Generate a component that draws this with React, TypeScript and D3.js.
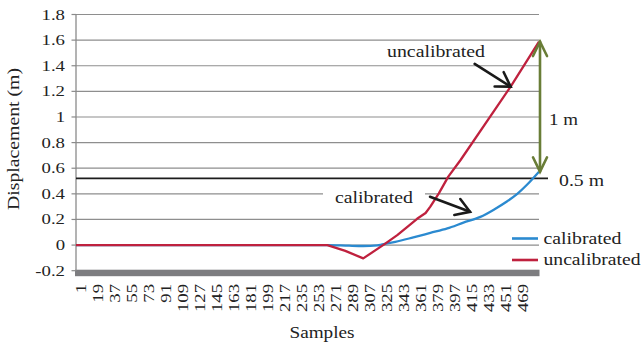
import React from 'react';
import * as d3 from 'd3';

// Sample axis labels (every 18th sample)
const xTickSamples = [1, 19, 37, 55, 73, 91, 109, 127, 145, 163, 181, 199, 217, 235, 253, 271, 289, 307, 325, 343, 361, 379, 397, 415, 433, 451, 469];
const sampleCount = 491;

// Displacement axis
const yTickValues = [-0.2, 0, 0.2, 0.4, 0.6, 0.8, 1, 1.2, 1.4, 1.6, 1.8];
const yTickLabels = ['-0.2', '0', '0.2', '0.4', '0.6', '0.8', '1', '1.2', '1.4', '1.6', '1.8'];

// Calibrated displacement (m) at sample indices
const calibratedSamples = [1, 267, 290, 305, 320, 325, 339, 358, 376, 394, 411, 429, 444, 457, 468, 478, 491];
const calibratedValues = [0, 0, -0.005, -0.007, -0.002, 0.005, 0.025, 0.06, 0.095, 0.13, 0.175, 0.22, 0.28, 0.34, 0.4, 0.469, 0.573];

// Uncalibrated displacement (m) at sample indices
const uncalibratedSamples = [1, 267, 286, 305, 326, 341, 353, 362, 371, 376, 385, 395, 408, 461, 491];
const uncalibratedValues = [0, 0, -0.045, -0.104, 0, 0.078, 0.15, 0.205, 0.25, 0.3, 0.404, 0.534, 0.664, 1.237, 1.588];

// Reference level for the "0.5 m" marker
const referenceLevel = 0.52;

const seriesNames = ['calibrated', 'uncalibrated'];
const seriesColors = ['#2B8AD0', '#BF213E'];

const FONT = "'Liberation Serif', 'Times New Roman', Times, 'DejaVu Serif', serif";

function arrowHead(tip: [number, number], from: [number, number], len: number, halfAngle: number): string {
  const ang = Math.atan2(from[1] - tip[1], from[0] - tip[0]);
  const a = (halfAngle * Math.PI) / 180;
  const b1 = [tip[0] + len * Math.cos(ang + a), tip[1] + len * Math.sin(ang + a)];
  const b2 = [tip[0] + len * Math.cos(ang - a), tip[1] + len * Math.sin(ang - a)];
  return `M${b1[0]},${b1[1]}L${tip[0]},${tip[1]}L${b2[0]},${b2[1]}`;
}

const textStyle: React.CSSProperties = { fontFamily: FONT };

export default function App() {
  const x = d3.scaleLinear().domain([1, sampleCount]).range([76, 539]);
  const y = d3.scaleLinear().domain([-0.2, 1.8]).range([270.7, 14.5]);
  const plotLeft = x(1);
  const plotRight = x(sampleCount);

  const calibrated: [number, number][] = calibratedSamples.map((s, i) => [s, calibratedValues[i]]);
  const uncalibrated: [number, number][] = uncalibratedSamples.map((s, i) => [s, uncalibratedValues[i]]);

  const smoothLine = d3.line<[number, number]>().x(d => x(d[0])).y(d => y(d[1])).curve(d3.curveMonotoneX);
  const straightLine = d3.line<[number, number]>().x(d => x(d[0])).y(d => y(d[1]));

  // difference arrow between the two series at the last sample
  const lastCal = calibratedValues[calibratedValues.length - 1];
  const lastUncal = uncalibratedValues[uncalibratedValues.length - 1];
  const gx = plotRight + 1;
  const gTop: [number, number] = [gx, y(lastUncal)];
  const gBot: [number, number] = [gx, y(lastCal)];

  // pointer arrows for the two callouts
  const uTip: [number, number] = [x(461), y(1.237)];
  const uTail: [number, number] = [uTip[0] - 36, uTip[1] - 22.7];
  const cTip: [number, number] = [x(418), y(0.26)];
  const cTail: [number, number] = [cTip[0] - 40, cTip[1] - 15];

  return (
    <svg width={642} height={345} style={{ position: 'absolute', left: 0, top: 0, background: '#fff', fontFamily: FONT }}>
      <rect x={0} y={0} width={642} height={345} fill="#fff" />

      {/* gridlines */}
      {yTickValues.filter(v => v > -0.2).map(v => (
        <line key={'g' + v} x1={plotLeft} x2={plotRight} y1={y(v)} y2={y(v)} stroke="#8e8e8e" strokeWidth={1.2} />
      ))}

      {/* floor band */}
      <rect x={plotLeft - 1} y={y(-0.2) - 1} width={plotRight - plotLeft + 1.5} height={6.5} fill="#7d7d80" />

      {/* y axis */}
      <line x1={plotLeft} x2={plotLeft} y1={y(1.8)} y2={y(-0.2)} stroke="#8a8a8a" strokeWidth={1.3} />
      {yTickValues.map(v => (
        <line key={'t' + v} x1={plotLeft - 4.5} x2={plotLeft} y1={y(v)} y2={y(v)} stroke="#8a8a8a" strokeWidth={1.2} />
      ))}
      {yTickValues.map((v, i) => (
        <text key={'yl' + v} style={textStyle} transform={`translate(65,${y(v) + 5}) scale(1.25,1)`} textAnchor="end" fontSize={15} fill="#222">
          {yTickLabels[i]}
        </text>
      ))}

      {/* x tick labels */}
      {xTickSamples.map(s => (
        <text key={'xl' + s} style={textStyle} transform={`translate(${x(s) + 10},284) rotate(-90) scale(1.25,1)`} textAnchor="end" fontSize={15} fill="#222">
          {String(s)}
        </text>
      ))}

      {/* axis titles */}
      <text style={textStyle} x={322} y={338} textAnchor="middle" fontSize={16} fill="#222" textLength={65} lengthAdjust="spacingAndGlyphs">Samples</text>
      <text style={textStyle} transform="translate(19,139) rotate(-90)" textAnchor="middle" fontSize={16} fill="#222" textLength={142} lengthAdjust="spacingAndGlyphs">Displacement (m)</text>

      {/* reference level */}
      <line x1={plotLeft} x2={548} y1={y(referenceLevel)} y2={y(referenceLevel)} stroke="#1c1c1c" strokeWidth={1.8} />

      {/* callout box for calibrated label */}
      <rect x={323} y={184} width={102} height={26} fill="#fff" />

      {/* series */}
      <path d={smoothLine(calibrated) || ''} fill="none" stroke={seriesColors[0]} strokeWidth={2.3} strokeLinejoin="round" />
      <path d={straightLine(uncalibrated) || ''} fill="none" stroke={seriesColors[1]} strokeWidth={2.3} strokeLinejoin="round" />

      {/* difference arrow */}
      <g stroke="#697D37" strokeWidth={2.6} fill="none" strokeLinecap="round">
        <path d={`M${gTop[0]},${gTop[1]}L${gBot[0]},${gBot[1]}`} />
        <path d={arrowHead(gTop, gBot, 16, 26)} />
        <path d={arrowHead(gBot, gTop, 16, 26)} />
      </g>
      <text style={textStyle} x={549} y={125} fontSize={16} fill="#222" textLength={29} lengthAdjust="spacingAndGlyphs">1 m</text>
      <text style={textStyle} x={559} y={186} fontSize={16} fill="#222" textLength={45} lengthAdjust="spacingAndGlyphs">0.5 m</text>

      {/* callouts */}
      <text style={textStyle} x={387} y={57} fontSize={16} fill="#222" textLength={98} lengthAdjust="spacingAndGlyphs">uncalibrated</text>
      <g stroke="#1a1a1a" strokeWidth={2.6} fill="none" strokeLinecap="round">
        <path d={`M${uTail[0]},${uTail[1]}L${uTip[0]},${uTip[1]}`} />
        <path d={arrowHead(uTip, uTail, 16, 32)} />
      </g>
      <text style={textStyle} x={335} y={203} fontSize={16} fill="#222" textLength={78} lengthAdjust="spacingAndGlyphs">calibrated</text>
      <g stroke="#1a1a1a" strokeWidth={2.6} fill="none" strokeLinecap="round">
        <path d={`M${cTail[0]},${cTail[1]}L${cTip[0]},${cTip[1]}`} />
        <path d={arrowHead(cTip, cTail, 16, 32)} />
      </g>

      {/* legend */}
      {seriesNames.map((name, i) => (
        <g key={name}>
          <line x1={512} x2={538} y1={238.5 + i * 21.5} y2={238.5 + i * 21.5} stroke={seriesColors[i]} strokeWidth={2.6} />
          <text style={textStyle} x={543.5} y={243.5 + i * 21} fontSize={16} fill="#222" textLength={i === 0 ? 78 : 97} lengthAdjust="spacingAndGlyphs">
            {name}
          </text>
        </g>
      ))}
    </svg>
  );
}
